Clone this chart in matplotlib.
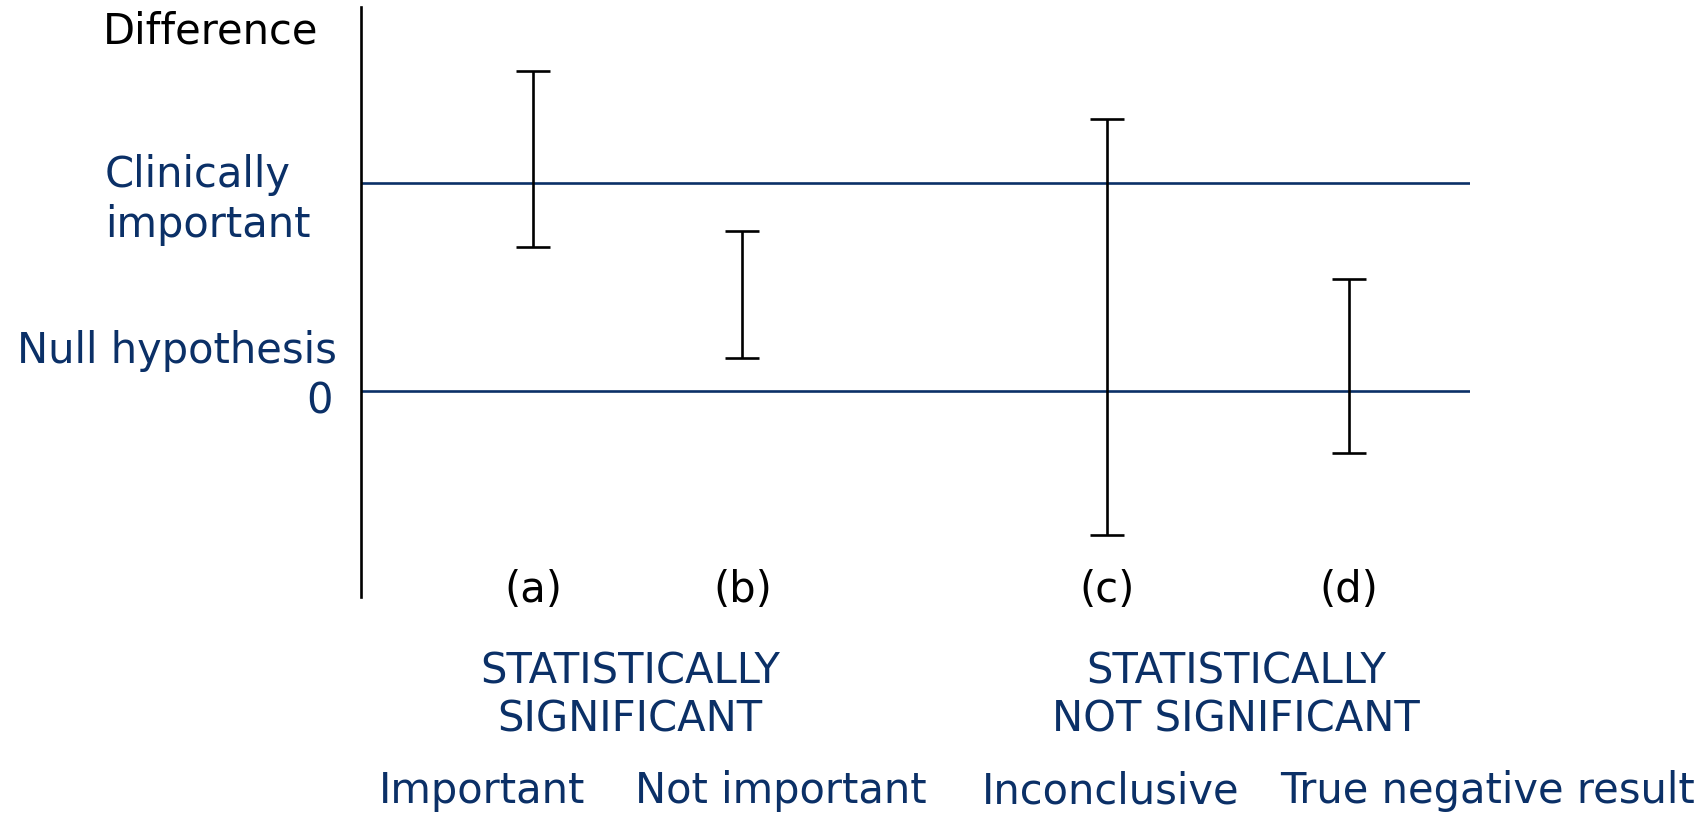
import matplotlib
matplotlib.use("Agg")
import matplotlib.pyplot as plt
from matplotlib.transforms import blended_transform_factory

# Confidence intervals for four hypothetical study results
# (0 = null hypothesis, 1 = clinically important difference)
case_labels = ["(a)", "(b)", "(c)", "(d)"]
ci_low = [0.69, 0.16, -0.69, -0.30]
ci_high = [1.54, 0.77, 1.31, 0.54]
interpretations = ["Important", "Not important", "Inconclusive", "True negative result"]
group_titles = [["STATISTICALLY", "SIGNIFICANT"], ["STATISTICALLY", "NOT SIGNIFICANT"]]
reference_levels = [0.0, 1.0]

# layout
W, H = 1705, 816
case_x = [1.55, 3.44, 6.73, 8.91]
NAVY = "#0b3067"
FS = 30
LW = 1.9
plt.rcParams["font.family"] = ["DejaVu Sans"]

fig = plt.figure(figsize=(W / 100, H / 100), dpi=100)
ax = fig.add_axes([361 / W, 219 / H, 1109 / W, 590 / H])
ax.set_xlim(0, 10)
ax.set_ylim(-0.99, 1.846)
for side in ("top", "right", "bottom"):
    ax.spines[side].set_visible(False)
ax.spines["left"].set_linewidth(LW)
ax.spines["left"].set_color("black")
ax.set_xticks([])
ax.set_yticks([])

for lvl in reference_levels:
    ax.axhline(lvl, color=NAVY, lw=LW, zorder=1)

mids = [(lo + hi) / 2 for lo, hi in zip(ci_low, ci_high)]
err = [[m - lo for m, lo in zip(mids, ci_low)], [hi - m for hi, m in zip(ci_high, mids)]]
ax.errorbar(case_x, mids, yerr=err, fmt="none", ecolor="black",
            elinewidth=LW, capsize=12, capthick=LW, zorder=3)


def ftext(x, y, s, **kw):
    fig.text(x / W, 1 - y / H, s, fontsize=FS, va="baseline", **kw)


ftext(318, 43, "Difference", ha="right", color="black")
ftext(105, 187, "Clinically", ha="left", color=NAVY)
ftext(105, 237, "important", ha="left", color=NAVY)
ftext(337, 363, "Null hypothesis", ha="right", color=NAVY)
ftext(333, 413, "0", ha="right", color=NAVY)

# case letters under each interval
trans = blended_transform_factory(ax.transData, fig.transFigure)
for x, lab in zip(case_x, case_labels):
    ax.text(x, 1 - 602 / H, lab, transform=trans,
            fontsize=FS, ha="center", va="baseline", color="black", clip_on=False)

for cx, lines in zip([630, 1236], group_titles):
    for i, line in enumerate(lines):
        ftext(cx, 683 + 49 * i, line, ha="center", color=NAVY)

for cx, s in zip([482, 781, 1111, 1488], interpretations):
    ftext(cx, 803, s, ha="center", color=NAVY)

fig.savefig("out.png", dpi=100)
